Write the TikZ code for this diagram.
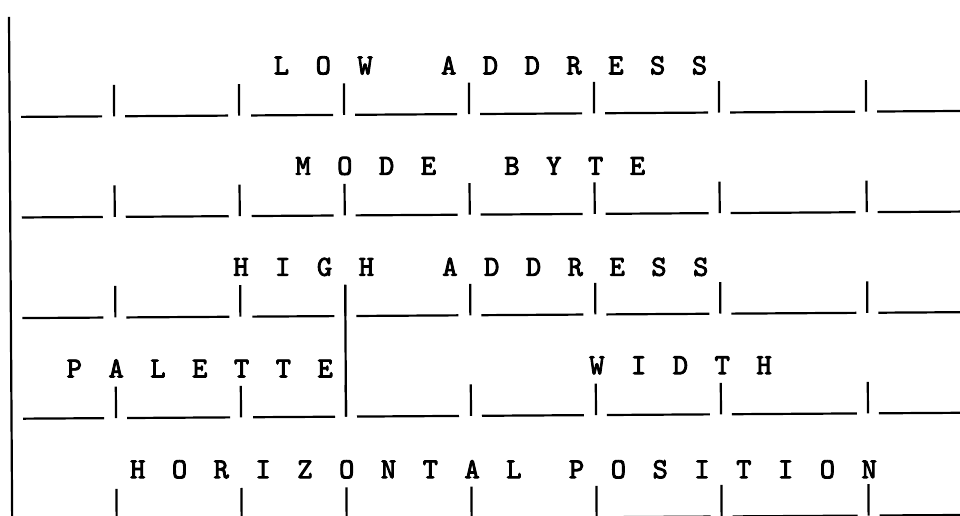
\documentclass[tikz,border=0pt]{standalone}
\usepackage{fontspec}
\newfontfamily\typefont{lmmono10-regular.otf}[FakeBold=3]
\newlength\pitch
\setlength\pitch{20.9pt}
\ExplSyntaxOn
\NewDocumentCommand\typed{m}{\str_map_inline:nn{#1}{\makebox[\pitch]{##1}}}
\ExplSyntaxOff
\newcommand\skipcols[1]{\hspace*{#1\pitch}}

\begin{document}
\begin{tikzpicture}[x=1pt,y=-1pt,
  rule/.style={line width=2.2pt,line cap=butt},
  field/.style={anchor=base west,inner sep=0pt,font=\typefont\fontsize{29}{31}\selectfont}]
  \clip (0,0) rectangle (960,516);
  \begin{scope}[rotate around={0.36:(480,258)}]
  \draw[rule] (10.5,14) -- (10.5,530);
  % register rows: underscores and tick marks
  \foreach \r in {114,214.6,315.2,415.8,518}{
    \foreach \a/\b in {22/103,126/229,252/334,356/458,481/583,606/709,731/856,878/975}
      \draw[rule] (\a,\r) -- (\b,\r);
    \foreach \t in {115,240,345,470,595,720,867}
      \draw[rule] (\t,\r-31.5) -- (\t,\r);
  }
  \draw[rule] (345,284.2) -- (345,415.8);
  % field names
  \node[field] (low) at (272,73) {\typed{L O W}\skipcols{3}\typed{A D D R E S S}};
  \node[field] (mode) at (292.9,173.6) {\typed{M O D E}\skipcols{3}\typed{B Y T E}};
  \node[field] (high) at (230.2,274.2) {\typed{H I G H}\skipcols{3}\typed{A D D R E S S}};
  \node[field] (pal) at (63,374.8) {\typed{P A L E T T E}};
  \node[field] (wid) at (585.5,374.8) {\typed{W I D T H}};
  \node[field] (hpos) at (125.7,476) {\typed{H O R I Z O N T A L}\skipcols{2}\typed{P O S I T I O N}};
  \end{scope}
\end{tikzpicture}
\end{document}
